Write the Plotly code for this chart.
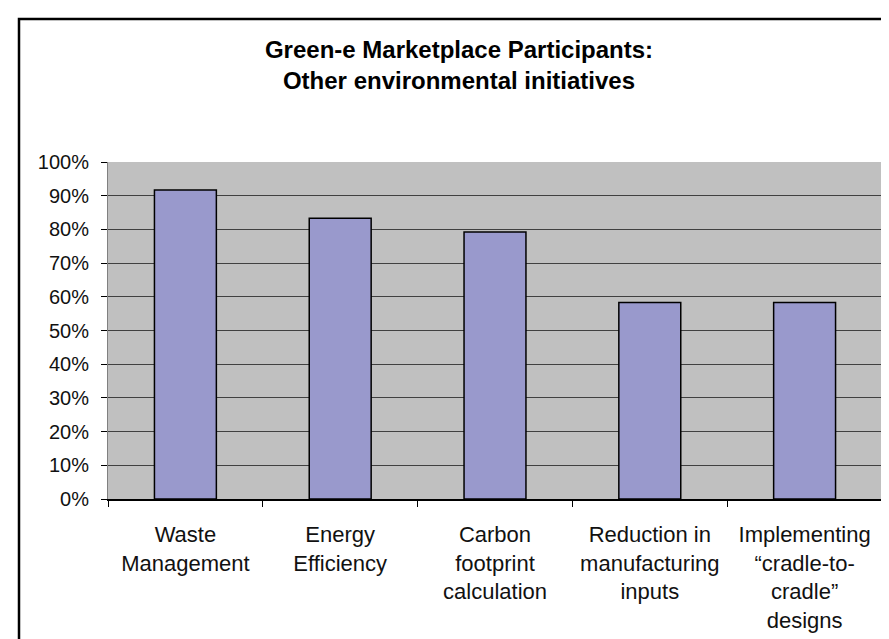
import plotly.graph_objects as go

categories = [
    "Waste<br>Management",
    "Energy<br>Efficiency",
    "Carbon<br>footprint<br>calculation",
    "Reduction in<br>manufacturing<br>inputs",
    "Implementing<br>\u201ccradle-to-<br>cradle\u201d<br>designs",
]
values = [91.7, 83.3, 79.2, 58.3, 58.3]
y_ticks = [0, 10, 20, 30, 40, 50, 60, 70, 80, 90, 100]
title_text = "Green-e Marketplace Participants:<br>Other environmental initiatives"

FONT = "Liberation Sans, Arial, sans-serif"
W, H = 889, 639
L, R, T, B = 100, 15, 154, 148
pw, ph = W - L - R, H - T - B

def px_x(px):
    return (px - L) / pw

def px_y(py):
    return (H - B - py) / ph

fig = go.Figure(
    go.Bar(
        x=categories,
        y=values,
        marker=dict(color="#9999CC", line=dict(color="#000000", width=1.5)),
        width=0.4,
        hoverinfo="skip",
    )
)

fig.update_layout(
    width=W,
    height=H,
    margin=dict(l=L, r=R, t=T, b=B),
    paper_bgcolor="white",
    plot_bgcolor="#C0C0C0",
    showlegend=False,
    title=dict(
        text=title_text,
        font=dict(family=FONT, size=24, color="#000000", weight="bold"),
        x=451 / W,
        xanchor="center",
        xref="container",
        y=1 - 50 / H,
        yref="container",
        yanchor="middle",
    ),
    font=dict(family=FONT, color="#111111"),
    shapes=[
        dict(
            type="rect",
            xref="paper",
            yref="paper",
            x0=px_x(11),
            x1=px_x(886),
            y0=px_y(11),
            y1=px_y(650),
            line=dict(color="#000000", width=2.5),
            fillcolor="rgba(0,0,0,0)",
            layer="above",
        )
    ],
)

fig.update_xaxes(
    tickson="boundaries",
    ticks="outside",
    ticklen=6,
    tickcolor="#000000",
    showgrid=False,
    showline=True,
    linecolor="#000000",
    linewidth=1.5,
    tickfont=dict(family=FONT, size=22, color="#111111"),
    ticklabelstandoff=15,
    tickangle=0,
)

fig.update_yaxes(
    range=[0, 100],
    tickvals=y_ticks,
    ticktext=[f"{v}%" for v in y_ticks],
    ticks="outside",
    ticklen=6,
    tickcolor="#000000",
    showgrid=True,
    gridcolor="#404040",
    gridwidth=1,
    showline=True,
    linecolor="#808080",
    linewidth=1,
    mirror=True,
    zeroline=False,
    tickfont=dict(family=FONT, size=20, color="#111111"),
    ticklabelstandoff=8,
)

fig.write_html("out.html")
